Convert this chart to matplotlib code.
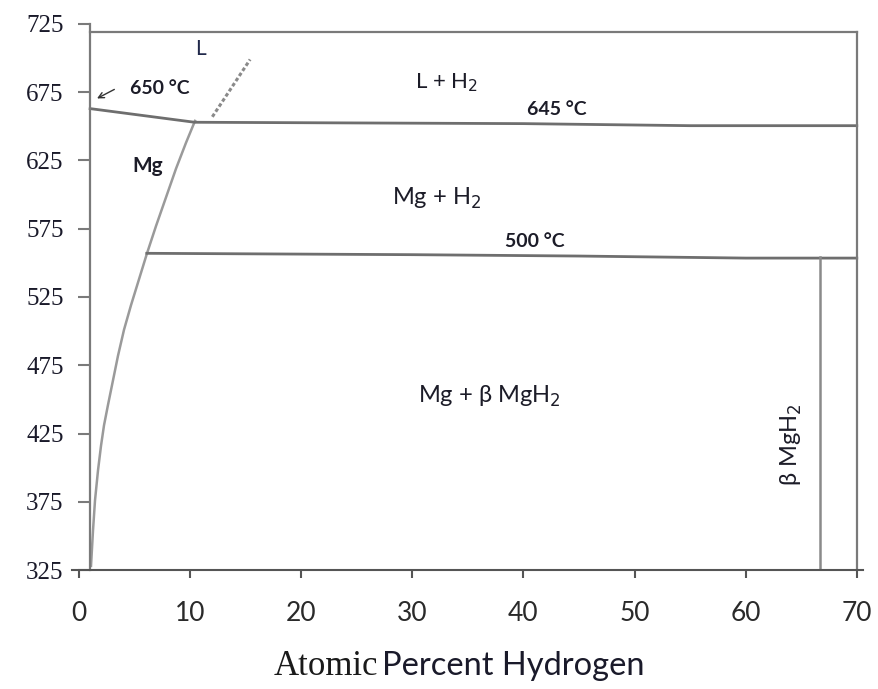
import matplotlib.pyplot as plt

# Mg-H phase diagram, temperatures in deg C
# solubility limit of H in solid Mg
solvus_x = [1.08, 1.26, 1.44, 1.71, 1.98, 2.25, 2.61, 3.06, 3.51,
            4.05, 4.68, 5.40, 6.12, 6.93, 7.83, 8.73, 9.63, 10.44]
solvus_y = [328, 354, 376, 398, 416, 431, 446, 464, 482,
            501, 519, 538, 557, 577, 598, 619, 638, 654]
# dashed extension into the liquid
liquidus_x = [12.0, 13.7, 15.4]
liquidus_y = [657, 678, 699]
# monotectic line (650 -> 645 C)
monotectic_x = [1.0, 10.4, 25, 40, 55, 70]
monotectic_y = [663, 653, 652.5, 652, 650.5, 650.5]
# eutectoid line (500 C)
eutectoid_x = [6.1, 30, 45, 60, 70]
eutectoid_y = [557, 556, 555, 553.5, 553.5]
# MgH2 composition
hydride_x = 66.7
hydride_top = 554

frame_left, frame_right, frame_top = 1.0, 70.0, 719

fig = plt.figure(figsize=(8.79, 6.89), dpi=100)
ax = fig.add_axes([0.0823, 0.1727, 0.9, 0.7925])
ax.set_xlim(-0.6, 70.6)
ax.set_ylim(325, 725)

line_col = '#6e6e6e'
frame_col = '#7a7a7a'
txt_col = '#1c1c28'

ax.plot(solvus_x, solvus_y, color='#9a9a9a', lw=1.8)
ax.plot(liquidus_x, liquidus_y, color='#8a8a8a', lw=2.2, ls=(0, (1.2, 0.8)))
ax.plot(monotectic_x, monotectic_y, color=line_col, lw=2.0)
ax.plot(eutectoid_x, eutectoid_y, color=line_col, lw=2.0)
ax.plot([hydride_x, hydride_x], [325, hydride_top], color='#8a8a8a', lw=1.8)

# box
ax.plot([frame_left, frame_right], [frame_top, frame_top], color=frame_col, lw=1.6)
ax.plot([frame_right, frame_right], [325, frame_top], color=frame_col, lw=1.6)

for s in ['top', 'right']:
    ax.spines[s].set_visible(False)
ax.spines['left'].set_position(('data', frame_left))
ax.spines['left'].set_color(frame_col)
ax.spines['left'].set_linewidth(1.6)
ax.spines['bottom'].set_color('#555555')
ax.spines['bottom'].set_linewidth(1.5)

ax.set_yticks(range(325, 726, 50))
ax.set_xticks(range(0, 71, 10))
ax.tick_params(axis='y', direction='out', length=9, width=1.5, color=frame_col,
               pad=10, labelsize=18, labelcolor='#1a1a2a')
ax.tick_params(axis='x', direction='out', length=6, width=1.5, color='#555555',
               pad=16, labelsize=19, labelcolor='#2a2a2a')
for lb in ax.get_yticklabels():
    lb.set_fontfamily('Liberation Serif')
for lb in ax.get_xticklabels():
    lb.set_fontfamily('Lato')

# arrow to the Mg melting point
ax.annotate('', xy=(1.4, 669.5), xytext=(3.4, 678),
            arrowprops=dict(arrowstyle='->', color='#333333', lw=1.0))

sans = 'Lato'
ax.text(10.9, 707, 'L', fontsize=15, family=sans, color='#20284a', ha='center', va='center')
ax.text(7.3, 678, '650 °C', fontsize=14, family=sans, weight='bold', color=txt_col,
        ha='center', va='center')
ax.text(6.2, 621, 'Mg', fontsize=15, family=sans, weight='bold', color=txt_col,
        ha='center', va='center')
ax.text(33.1, 682, 'L + H$_2$', fontsize=16, family=sans, color=txt_col,
        ha='center', va='center')
ax.text(43.0, 662, '645 °C', fontsize=14, family=sans, weight='bold', color=txt_col,
        ha='center', va='center')
ax.text(32.2, 597, 'Mg + H$_2$', fontsize=17, family=sans, color=txt_col,
        ha='center', va='center')
ax.text(41.0, 566, '500 °C', fontsize=14, family=sans, weight='bold', color=txt_col,
        ha='center', va='center')
ax.text(36.9, 452, 'Mg + β MgH$_2$', fontsize=17, family=sans, color=txt_col,
        ha='center', va='center')
ax.text(64.1, 417, 'β MgH$_2$', fontsize=17, family=sans, color=txt_col,
        ha='center', va='center', rotation=90)

# axis title, mixed fonts
fig.text(0.43, 0.02, 'Atomic', fontsize=25, family='Liberation Serif',
         color='#1a1a1a', ha='right', va='baseline')
fig.text(0.435, 0.02, 'Percent Hydrogen', fontsize=23.5, family=sans,
         color='#1a1a2a', ha='left', va='baseline')

fig.savefig('out.png', dpi=100)
